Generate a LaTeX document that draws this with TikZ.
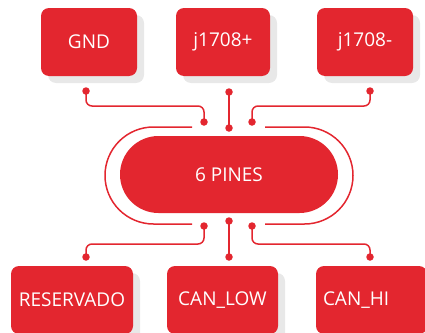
\documentclass[tikz,border=0pt]{standalone}
\usepackage{fontspec}
\setmainfont{Open Sans}
\usetikzlibrary{shadows}
\definecolor{pinred}{HTML}{E3262F}
\definecolor{shadegray}{HTML}{E8E8E8}
\tikzset{
  pinbox/.style={fill=pinred, text=white, rounded corners=8pt, inner sep=0pt,
    font=\fontsize{19}{22}\selectfont,
    general shadow={fill=shadegray, shadow xshift=7pt, shadow yshift=-7pt}},
  wire/.style={draw=pinred, line width=1.5pt, rounded corners=6pt},
  pindot/.style={circle, fill=pinred, inner sep=0pt, minimum size=7.5pt},
}
\begin{document}
\begin{tikzpicture}[x=1pt,y=-1pt]
\useasboundingbox (0,0) rectangle (425,332);
% top boxes
\node[pinbox, minimum width=96pt, minimum height=68pt] (gnd) at (89,42) {GND};
\node[pinbox, minimum width=94pt, minimum height=68pt] (jp) at (223,42) {j1708+};
\node[pinbox, minimum width=96pt, minimum height=68pt] (jm) at (365,42) {j1708-};
% bottom boxes
\node[pinbox, minimum width=122pt, minimum height=68pt] (res) at (72,300) {RESERVADO};
\node[pinbox, minimum width=111pt, minimum height=68pt] (canl) at (222.5,300) {CAN\_LOW};
\node[pinbox, minimum height=68pt, text width=97pt, align=left, inner xsep=7pt] (canh) at (371.5,300) {CAN\_HI};
% central pill
\node[fill=pinred, text=white, rounded corners=38.5pt, minimum width=218pt, minimum height=77pt,
  inner sep=0pt, font=\fontsize{19}{22}\selectfont] (pill) at (229,174.5) {6 PINES};
\draw[draw=pinred, line width=1.5pt, rounded corners=48.5pt]
  (192,127) -- (105,127) -- (105,224) -- (192,224);
\draw[draw=pinred, line width=1.5pt, rounded corners=48.5pt]
  (265,127) -- (353,127) -- (353,224) -- (265,224);
% dots
\node[pindot] (t1) at (86,91) {};
\node[pindot] (t2) at (229,92) {};
\node[pindot] (t3) at (370,91) {};
\node[pindot] (p1) at (204,122) {};
\node[pindot] (p2) at (229,128) {};
\node[pindot] (p3) at (252,122) {};
\node[pindot] (q1) at (204,226) {};
\node[pindot] (q2) at (229,221) {};
\node[pindot] (q3) at (252,226) {};
\node[pindot] (b1) at (86,257) {};
\node[pindot] (b2) at (229,257) {};
\node[pindot] (b3) at (370,257) {};
\coordinate (h1) at (145,106);
\coordinate (h3) at (311,106);
\coordinate (h4) at (145,244);
\coordinate (h6) at (311,244);
% wires
\draw[wire] (t1.center) |- (h1) -| (p1.center);
\draw[wire] (t2.center) -- (p2.center);
\draw[wire] (t3.center) |- (h3) -| (p3.center);
\draw[wire] (q1.center) |- (h4) -| (b1.center);
\draw[wire] (q2.center) -- (b2.center);
\draw[wire] (q3.center) |- (h6) -| (b3.center);
\end{tikzpicture}
\end{document}
